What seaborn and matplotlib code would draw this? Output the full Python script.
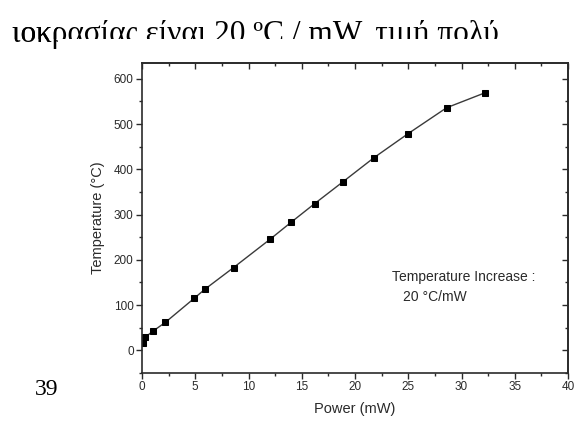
import matplotlib
matplotlib.use('Agg')
import matplotlib.pyplot as plt
import seaborn as sns
import pandas as pd
from matplotlib.ticker import MultipleLocator
from matplotlib.transforms import Bbox, TransformedBbox

# Power (mW) vs temperature (°C)
power = [0.1, 0.3, 1.0, 2.2, 4.9, 5.9, 8.6, 12.0, 14.0, 16.2, 18.9, 21.8, 25.0, 28.6, 32.2]
temperature = [17, 29, 42, 62, 115, 135, 183, 245, 283, 324, 373, 426, 479, 536, 569]

x_ticks = [0, 5, 10, 15, 20, 25, 30, 35, 40]
y_ticks = [0, 100, 200, 300, 400, 500, 600]

df = pd.DataFrame({'Power': power, 'Temperature': temperature})

sns.set_style('ticks')
ink = '#2a2a2a'

fig = plt.figure(figsize=(5.78, 4.23), dpi=100)
ax = fig.add_axes([0.2457, 0.1182, 0.737, 0.733])

sns.lineplot(data=df, x='Power', y='Temperature', ax=ax, color='#3a3a3a', lw=1.0,
             marker='s', markersize=5, markerfacecolor='black', markeredgecolor='black')

ax.set_xlim(0, 40)
ax.set_ylim(-50, 635)
ax.set_xticks(x_ticks)
ax.set_yticks(y_ticks)
ax.xaxis.set_minor_locator(MultipleLocator(2.5))
ax.yaxis.set_minor_locator(MultipleLocator(50))
ax.tick_params(which='major', direction='out', length=4, width=1, colors=ink,
               labelsize=8.5, pad=2)
ax.tick_params(which='minor', direction='out', length=2, width=1, colors=ink)
for lab in ax.get_xticklabels() + ax.get_yticklabels():
    lab.set_family('Liberation Sans')

# top / right axes with inward ticks, no labels
top = ax.secondary_xaxis('top')
top.set_xticks(x_ticks)
top.xaxis.set_minor_locator(MultipleLocator(2.5))
top.tick_params(which='both', direction='in', labeltop=False, colors=ink, width=1)
top.tick_params(which='major', length=4)
top.tick_params(which='minor', length=2)
right = ax.secondary_yaxis('right')
right.set_yticks(y_ticks)
right.yaxis.set_minor_locator(MultipleLocator(50))
right.tick_params(which='both', direction='in', labelright=False, colors=ink, width=1)
right.tick_params(which='major', length=4)
right.tick_params(which='minor', length=2)

for sp in list(ax.spines.values()) + [top.spines['top'], right.spines['right']]:
    sp.set_visible(True)
    sp.set_color(ink)
    sp.set_linewidth(1.2)

ax.set_xlabel('Power (mW)', fontsize=10.5, color=ink, family='Liberation Sans', labelpad=6)
ax.set_ylabel('Temperature (°C)', fontsize=10.5, color=ink, family='Liberation Sans', labelpad=6)

ax.text(23.5, 161, 'Temperature Increase :', fontsize=10, color=ink,
        family='Liberation Sans', va='center')
ax.text(24.5, 117, '20 °C/mW', fontsize=10, color=ink,
        family='Liberation Sans', va='center')

# surrounding page text from the scanned document; the pasted figure hides
# the lower part of the line from x ~ 58 px onward
line = 'ιοκρασίας είναι 20 ºC / mW, τιμή πολύ'
clips = [Bbox([[0, 1 - 39 / 423], [1, 1]]),
         Bbox([[0, 1 - 49 / 423], [58 / 578, 1]])]
for box in clips:
    head = fig.text(12 / 578, 1 - 42 / 423, line, fontsize=22.5,
                    family='Liberation Serif', color='black', va='baseline')
    head.set_clip_box(TransformedBbox(box, fig.transFigure))
    head.set_clip_on(True)

fig.text(35 / 578, 1 - 395 / 423, '39', fontsize=17, family='Liberation Serif',
         color='black', va='baseline')

fig.savefig('out.png', dpi=100)
